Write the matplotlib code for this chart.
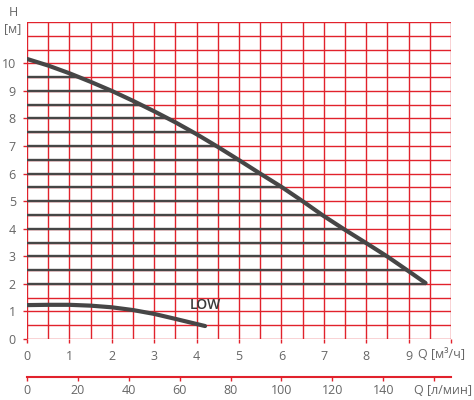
import matplotlib
matplotlib.use("Agg")
import matplotlib.pyplot as plt
import numpy as np

# main pump curve, Q [m3/h] vs H [m]
q_main = [0.0, 0.5, 1.0, 1.5, 2.0, 2.5, 3.0, 3.5, 4.0, 4.5, 5.0, 5.5, 6.0,
          6.5, 7.0, 7.5, 8.0, 8.5, 9.0, 9.4]
h_main = [10.16, 9.92, 9.64, 9.33, 9.0, 8.64, 8.26, 7.86, 7.43, 6.97, 6.49,
          6.0, 5.52, 5.0, 4.46, 3.96, 3.48, 2.99, 2.46, 2.03]

# LOW speed curve
q_low = [0.0, 0.5, 1.0, 1.5, 2.0, 2.5, 3.0, 3.5, 4.2]
h_low = [1.23, 1.24, 1.24, 1.21, 1.15, 1.05, 0.91, 0.73, 0.47]

# hatch levels under the main curve
hatch_levels = np.arange(2.0, 10.0, 0.5)

x_ticks = [0, 1, 2, 3, 4, 5, 6, 7, 8, 9, 10]
x_labels = ["0", "1", "2", "3", "4", "5", "6", "7", "8", "9", ""]
y_ticks = [0, 1, 2, 3, 4, 5, 6, 7, 8, 9, 10]
lmin_ticks = [0, 20, 40, 60, 80, 100, 120, 140, 160]
lmin_labels = ["0", "20", "40", "60", "80", "100", "120", "140", ""]

RED = "#e1222c"
DARK = "#464646"
TXT = "#666666"

plt.rcParams["font.family"] = ["Open Sans", "DejaVu Sans"]

fig = plt.figure(figsize=(4.74, 4.0), dpi=100)
ax = fig.add_axes([27 / 474, 1 - 339 / 400, 424 / 474, 317 / 400])
ax.set_xlim(0, 10)
ax.set_ylim(0, 11.5)

for x in np.arange(0, 10.01, 0.5):
    ax.axvline(x, color=RED, lw=1.0, zorder=1)
for y in np.arange(0, 11.51, 0.5):
    ax.axhline(y, color=RED, lw=1.0, zorder=1)

# horizontal hatch from the axis to the curve
q_rev = q_main[::-1]
h_rev = h_main[::-1]
for lev in hatch_levels:
    q_end = np.interp(lev, h_rev, q_rev)
    ax.plot([0, q_end], [lev, lev], color=DARK, lw=1.7, solid_capstyle="butt", zorder=2)

ax.plot(q_main, h_main, color=DARK, lw=3.0, solid_capstyle="round",
        solid_joinstyle="round", zorder=3)
ax.plot(q_low, h_low, color=DARK, lw=3.0, solid_capstyle="round",
        solid_joinstyle="round", zorder=3)
ax.text(4.2, 1.23, "LOW", fontsize=10, fontweight="semibold", color="#3a3a3a",
        ha="center", va="center", zorder=4)

for s in ax.spines.values():
    s.set_visible(False)
ax.set_xticks(x_ticks)
ax.set_xticklabels(x_labels)
ax.set_yticks(y_ticks)
ax.tick_params(axis="both", colors=RED, labelcolor=TXT, labelsize=9, length=3, width=1, pad=5)
ax.text(9.78, -0.58, "Q [м³/ч]", fontsize=9, color=TXT, ha="center", va="center")
fig.text(13 / 474, 1 - 13 / 400, "H", fontsize=9, color=TXT, ha="center", va="center")
fig.text(13 / 474, 1 - 29 / 400, "[м]", fontsize=9, color=TXT, ha="center", va="center")

# secondary flow axis in l/min
ax2 = fig.add_axes([27 / 474, 1 - 377 / 400, 424 / 474, 0.001])
ax2.set_xlim(0, 10 * 1000 / 60)
ax2.set_yticks([])
for k in ("top", "left", "right"):
    ax2.spines[k].set_visible(False)
ax2.spines["bottom"].set_color(RED)
ax2.spines["bottom"].set_linewidth(1.5)
ax2.set_xticks(lmin_ticks)
ax2.set_xticklabels(lmin_labels)
ax2.tick_params(axis="x", colors=RED, labelcolor=TXT, labelsize=9, length=3, width=1, pad=2)
fig.text(472 / 474, 1 - 391 / 400, "Q [л/мин]", fontsize=9, color=TXT, ha="right", va="center")

fig.savefig("out.png", dpi=100)
